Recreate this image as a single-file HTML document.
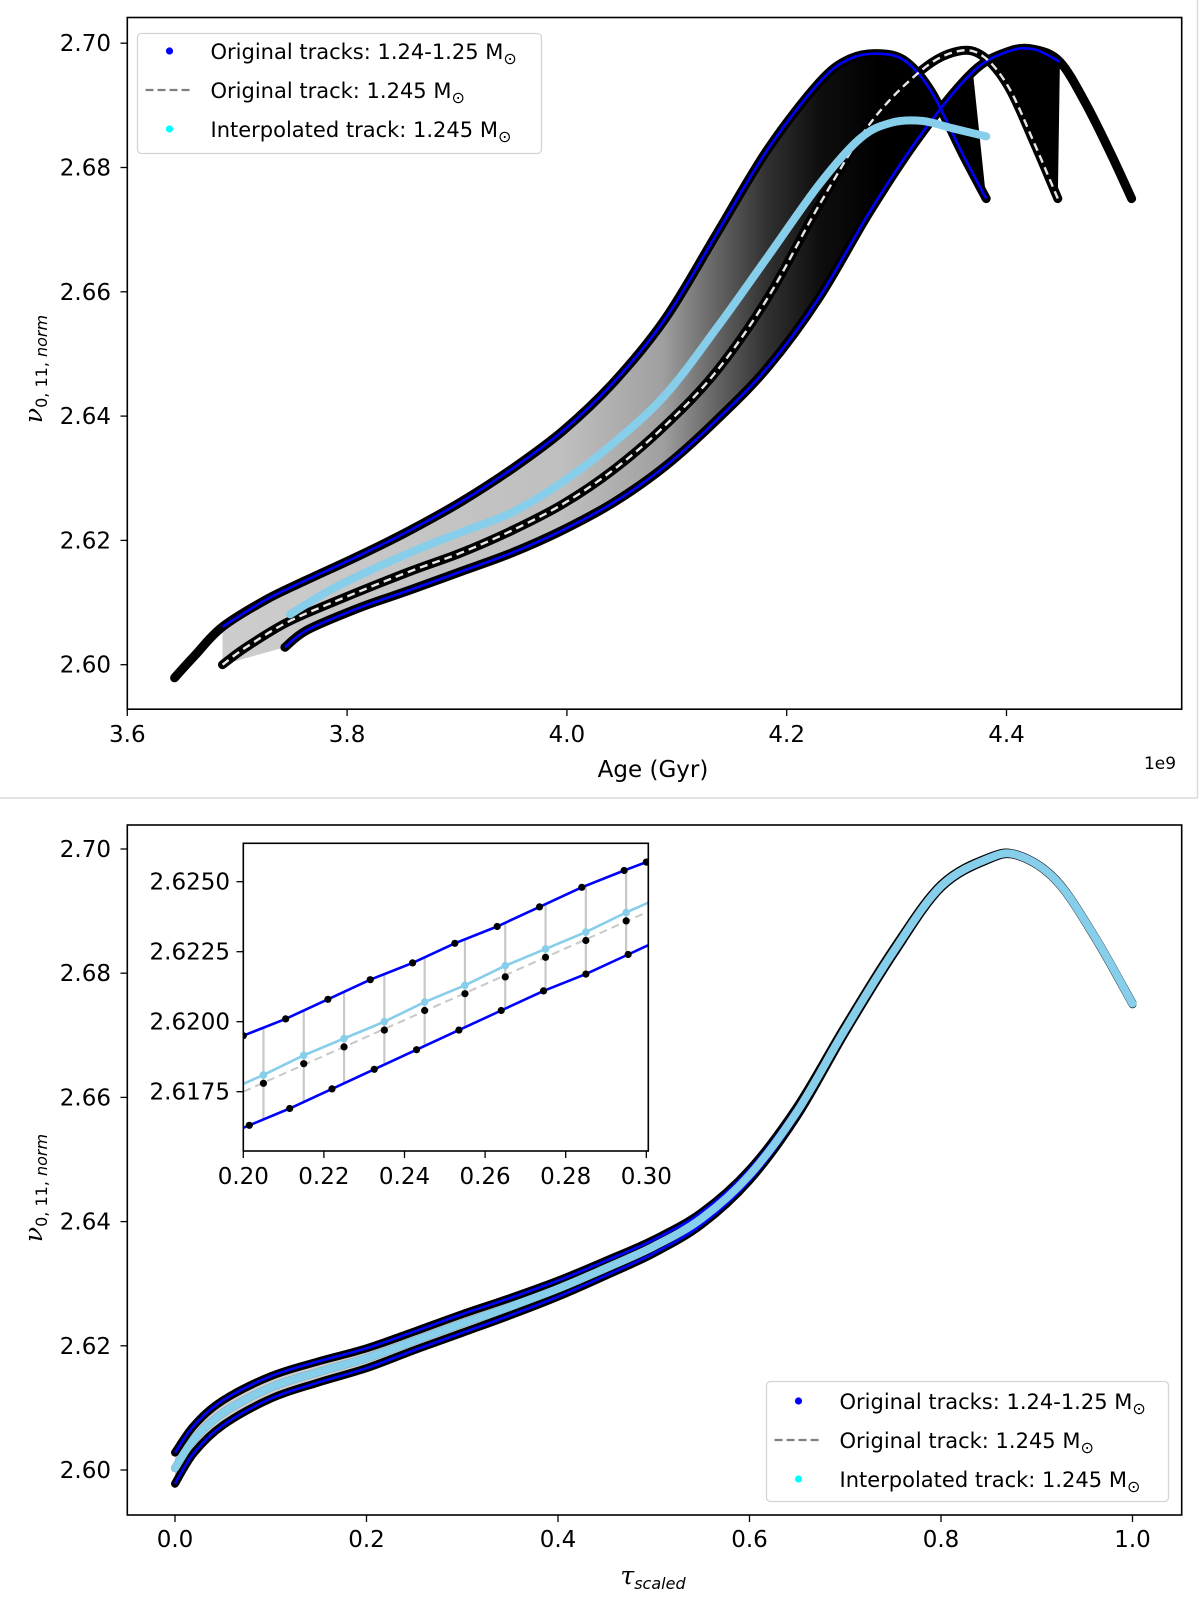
<!DOCTYPE html>
<html><head><meta charset="utf-8">
<style>
html,body{margin:0;padding:0;background:#fff;}
svg{display:block;font-family:"DejaVu Sans","Liberation Sans",sans-serif;}
</style></head>
<body>
<svg id="fig" width="1200" height="1605" viewBox="0 0 1200 1605" xmlns="http://www.w3.org/2000/svg">
<defs>
<linearGradient id="shade" gradientUnits="userSpaceOnUse" x1="220" y1="0" x2="880" y2="0">
<stop offset="0" stop-color="#cdcdcd"/>
<stop offset="0.52" stop-color="#bfbfbf"/>
<stop offset="0.67" stop-color="#a0a0a0"/>
<stop offset="0.75" stop-color="#666"/>
<stop offset="0.83" stop-color="#303030"/>
<stop offset="0.91" stop-color="#0e0e0e"/>
<stop offset="1" stop-color="#000"/>
</linearGradient>
<clipPath id="insetClip"><rect x="243.3" y="843.3" width="405" height="307.7"/></clipPath>
</defs>
<line x1="1197.5" y1="0" x2="1197.5" y2="798" stroke="#dcdcdc" stroke-width="1.5"/>
<line x1="0" y1="798" x2="1198" y2="798" stroke="#dcdcdc" stroke-width="1.5"/>
<g id="topChart"></g>
<g id="botChart"></g>
<g id="insChart"></g>
</svg>
<script>
// ---------- top chart data (age in yr/1e9, nu value) ----------
const trackAAge=[3.643,3.6615,3.6866,3.7267,3.764,3.8105,3.857,3.9036,3.950,3.9968,4.0434,4.090,4.1365,4.183,4.2297,4.2577,4.2856,4.3089,4.332,4.360,4.3815];
const trackANu=[2.5979,2.6015,2.6061,2.6105,2.6137,2.6175,2.6216,2.6262,2.6315,2.6377,2.6456,2.6558,2.6694,2.6830,2.6937,2.6975,2.6983,2.6970,2.6921,2.6822,2.6750];
const trackCAge=[3.7434,3.764,3.8105,3.857,3.9036,3.950,3.9968,4.0434,4.090,4.1365,4.183,4.2297,4.2763,4.323,4.3694,4.402,4.4253,4.4486,4.4718,4.495,4.5138];
const trackCNu=[2.6028,2.6056,2.6091,2.6120,2.6150,2.6180,2.6217,2.6262,2.6320,2.6394,2.6479,2.6591,2.6731,2.6855,2.6954,2.6987,2.6990,2.6970,2.6904,2.6822,2.6750];
const trackBAge=[3.6866,3.708,3.7453,3.7919,3.857,3.9036,3.950,3.9968,4.0434,4.090,4.1365,4.183,4.2297,4.2763,4.323,4.3554,4.3787,4.402,4.4253,4.4467];
const trackBNu=[2.6000,2.6028,2.6068,2.6104,2.6150,2.6180,2.6216,2.6259,2.6315,2.6386,2.6473,2.6591,2.6740,2.6872,2.6957,2.6987,2.6979,2.6929,2.6839,2.6750];
const interpAge=[3.748,3.7919,3.857,3.9036,3.950,3.9968,4.0434,4.090,4.1365,4.183,4.2297,4.267,4.295,4.323,4.351,4.3815];
const interpNu=[2.6081,2.6127,2.6180,2.6213,2.6245,2.6295,2.6358,2.6435,2.6542,2.6657,2.6773,2.6847,2.6872,2.6875,2.6863,2.6850];
const topXTicks=[3.6,3.8,4.0,4.2,4.4];
const topYTicks=[2.60,2.62,2.64,2.66,2.68,2.70];
// ---------- bottom chart data ----------
const tau=[0,0.02,0.05,0.1,0.15,0.2,0.25,0.3,0.35,0.4,0.45,0.5,0.55,0.6,0.65,0.7,0.75,0.8,0.85,0.88,0.92,0.96,1.0];
const bandCenter=[2.6003,2.6050,2.6092,2.6133,2.6158,2.6180,2.6208,2.6236,2.6263,2.6292,2.6325,2.6360,2.6405,2.6475,2.6578,2.6710,2.6834,2.6940,2.6985,2.6990,2.6950,2.6860,2.6751];
const bandUpper=[2.6028,2.6072,2.6112,2.6151,2.6175,2.6196,2.6223,2.6251,2.6277,2.6305,2.6337,2.6371,2.6415,2.6484,2.6586,2.6716,2.6839,2.6943,2.6987,2.6991,2.6951,2.6861,2.6752];
const bandLower=[2.5978,2.6028,2.6072,2.6115,2.6141,2.6164,2.6193,2.6221,2.6249,2.6279,2.6313,2.6349,2.6395,2.6466,2.6570,2.6704,2.6829,2.6937,2.6983,2.6989,2.6949,2.6859,2.6750];
const botXTicks=[0.0,0.2,0.4,0.6,0.8,1.0];
const botYTicks=[2.60,2.62,2.64,2.66,2.68,2.70];
// ---------- inset data ----------
const insUpTau=[0.200,0.2105,0.221,0.2315,0.242,0.2525,0.263,0.2735,0.284,0.2945,0.300];
const insUpNu=[2.6195,2.6201,2.6208,2.6215,2.6221,2.6228,2.6234,2.6241,2.6248,2.6254,2.6257];
const insLowTau=[0.2015,0.2115,0.222,0.2325,0.243,0.2535,0.264,0.2745,0.285,0.2955];
const insLowNu=[2.6163,2.6169,2.6176,2.6183,2.6190,2.6197,2.6204,2.6211,2.6217,2.6224];
const insMidTau=[0.205,0.215,0.225,0.235,0.245,0.255,0.265,0.275,0.285,0.295];
const insCyanNu=[2.6181,2.6188,2.6194,2.6200,2.6207,2.6213,2.6220,2.6226,2.6232,2.6239];
const insOrigNu=[2.6178,2.6185,2.6191,2.6197,2.6204,2.6210,2.6216,2.6223,2.6229,2.6236];
const insDashTau=[0.20,0.30];
const insDashNu=[2.6175,2.6239];
const insXTicks=[0.20,0.22,0.24,0.26,0.28,0.30];
const insYTicks=[2.6175,2.6200,2.6225,2.6250];

const SVGNS="http://www.w3.org/2000/svg";
function mk(parent,tag,attrs){const e=document.createElementNS(SVGNS,tag);for(const k in attrs)e.setAttribute(k,attrs[k]);parent.appendChild(e);return e;}
function smooth(p){
  if(p.length<3){return "M"+p.map(q=>q[0].toFixed(1)+","+q[1].toFixed(1)).join("L");}
  let d="M"+p[0][0].toFixed(1)+","+p[0][1].toFixed(1);
  for(let i=0;i<p.length-1;i++){
    const p0=p[Math.max(0,i-1)],p1=p[i],p2=p[i+1],p3=p[Math.min(p.length-1,i+2)];
    const c1=[p1[0]+(p2[0]-p0[0])/6,p1[1]+(p2[1]-p0[1])/6];
    const c2=[p2[0]-(p3[0]-p1[0])/6,p2[1]-(p3[1]-p1[1])/6];
    d+="C"+c1[0].toFixed(1)+","+c1[1].toFixed(1)+" "+c2[0].toFixed(1)+","+c2[1].toFixed(1)+" "+p2[0].toFixed(1)+","+p2[1].toFixed(1);
  }
  return d;
}
function toPts(xs,ys,fx,fy){return xs.map((x,i)=>[fx(x),fy(ys[i])]);}
function txt(p,x,y,s,size,name,extra){
  const e=document.createElementNS(SVGNS,'text');
  e.setAttribute('x',x);e.setAttribute('y',y);e.setAttribute('font-size',size);
  if(extra)for(const k in extra)e.setAttribute(k,extra[k]);
  e.innerHTML=s;p.appendChild(e);
  
  
  return e;
}
function legend(p,x,y,w,h,rows,name){
  const g=document.createElementNS(SVGNS,'g');p.appendChild(g);
  
  
  const r=mk(g,'rect',{x:x,y:y,width:w,height:h,rx:4,fill:'#fff','fill-opacity':0.85,stroke:'#d5d5d5','stroke-width':1.3});
  
  
  const labels=['Original tracks: 1.24-1.25 M','Original track: 1.245 M','Interpolated track: 1.245 M'];
  rows.forEach((ry,i)=>{
    const mx=x+32;
    if(i===1){const l=mk(g,'line',{x1:mx-24,y1:ry,x2:mx+20,y2:ry,stroke:'#808080','stroke-width':2.2,'stroke-dasharray':'8,4'});
      
      }
    else{const c=mk(g,'circle',{cx:mx,cy:ry,r:3.6,fill:i===0?'#0000ff':'#00ffff'});
      
      }
    txt(g,x+73,ry+8,labels[i]+'<tspan font-size="16" dy="5">⊙</tspan>',21,'legend-entry');
  });
}
function yTitle(p,tx,ty){
  txt(p,0,0,'<tspan font-style="italic" font-family="DejaVu Serif, serif">ν</tspan><tspan font-size="16" dy="5">0, 11, <tspan font-style="italic">norm</tspan></tspan>',25,'y-axis-title',{transform:'translate('+tx+','+ty+') rotate(-90)','text-anchor':'middle'});
}

// ===== TOP =====
const topG=document.getElementById('topChart');
const xT=a=>127.3+(a-3.6)/0.2*219.8;
const yT=v=>664.7-(v-2.6)/0.02*124.3;
const PA=toPts(trackAAge,trackANu,xT,yT), PC=toPts(trackCAge,trackCNu,xT,yT), PB=toPts(trackBAge,trackBNu,xT,yT), PI=toPts(interpAge,interpNu,xT,yT);
const aEnd=trackAAge[trackAAge.length-1];
const Cleft=PC.filter((p,i)=>trackCAge[i]<=aEnd+0.001);
const poly1=PA.slice(2).concat(Cleft.slice().reverse()).concat([PB[0]]);
let f1=mk(topG,'polygon',{points:poly1.map(p=>p.join(',')).join(' '),fill:'url(#shade)',stroke:'none'});


const bEnd=trackBAge[trackBAge.length-1];
const Cright=PC.filter((p,i)=>trackCAge[i]>=trackCAge[14]-0.001&&trackCAge[i]<=bEnd+0.003);
const Bright=PB.filter((p,i)=>trackBAge[i]>=4.37);
const poly2=Cright.concat([PB[PB.length-1]]).concat(Bright.slice().reverse());
let f2=mk(topG,'polygon',{points:poly2.map(p=>p.join(',')).join(' '),fill:'#000'});


[[PA,'track-low-mass-dots'],[PC,'track-high-mass-dots'],[PB,'track-mid-mass-dots']].forEach(([P,n])=>{
  const e=mk(topG,'path',{d:smooth(P),fill:'none',stroke:'#000','stroke-width':9,'stroke-linecap':'round','stroke-linejoin':'round'});
  
  
});
let la=mk(topG,'path',{d:smooth(PA.slice(2)),fill:'none',stroke:'#0000ff','stroke-width':2.6});


let lc=mk(topG,'path',{d:smooth(PC.slice(0,18)),fill:'none',stroke:'#0000ff','stroke-width':2.6});


let lb=mk(topG,'path',{d:smooth(PB),fill:'none',stroke:'#e6e6e6','stroke-width':2.4,'stroke-dasharray':'8,5'});


let li=mk(topG,'path',{d:smooth(PI),fill:'none',stroke:'#87ceeb','stroke-width':8,'stroke-linecap':'round'});


let fr=mk(topG,'rect',{x:127.3,y:17.5,width:1054.4,height:691.7,fill:'none',stroke:'#000','stroke-width':1.6});


topXTicks.forEach(t=>{
  const x=xT(t);
  const tk=mk(topG,'line',{x1:x,y1:709.2,x2:x,y2:716,stroke:'#000','stroke-width':1.3});
  
  
  const tx=mk(topG,'text',{x:x,y:742,'text-anchor':'middle','font-size':23,fill:'#000'});
  tx.textContent=t.toFixed(1);
  
  
});
topYTicks.forEach(t=>{
  const y=yT(t);
  const tk=mk(topG,'line',{x1:120.5,y1:y,x2:127.3,y2:y,stroke:'#000','stroke-width':1.3});
  
  
  const tx=mk(topG,'text',{x:111,y:y+8,'text-anchor':'end','font-size':23,fill:'#000'});
  tx.textContent=t.toFixed(2);
  
  
});
txt(topG,653,777,'Age (Gyr)',23,'x-axis-title',{'text-anchor':'middle'});
txt(topG,1160,769,'1e9',17,'x-axis-offset',{'text-anchor':'middle'});
yTitle(topG,42,369);
legend(topG,137.5,33.5,404,120,[51,90,129],'top-legend');

// ===== BOTTOM =====
const botG=document.getElementById('botChart');
const xB=t=>175+t*957.5;
const yB=v=>1470-(v-2.6)/0.02*124.2;
const PU=toPts(tau,bandUpper,xB,yB), PL=toPts(tau,bandLower,xB,yB), PM=toPts(tau,bandCenter,xB,yB);
let band=mk(botG,'polygon',{points:PU.concat(PL.slice().reverse()).map(p=>p.join(',')).join(' '),fill:'#cfcfcf'});


[[PU,'upper-track-dots'],[PL,'lower-track-dots'],[PM,'middle-track-dots']].forEach(([P,n])=>{
  const e=mk(botG,'path',{d:smooth(P),fill:'none',stroke:'#000','stroke-width':8,'stroke-linecap':'round'});
  
  
});
[[PU,'upper-track-line'],[PL,'lower-track-line']].forEach(([P,n])=>{
  const e=mk(botG,'path',{d:smooth(P),fill:'none',stroke:'#0000ff','stroke-width':2.6});
  
  
});
let ci=mk(botG,'path',{d:smooth(PM),fill:'none',stroke:'#87ceeb','stroke-width':8,'stroke-linecap':'round'});


let fr2=mk(botG,'rect',{x:127.3,y:825,width:1054.4,height:690,fill:'none',stroke:'#000','stroke-width':1.6});


botXTicks.forEach(t=>{
  const x=xB(t);
  const tk=mk(botG,'line',{x1:x,y1:1515,x2:x,y2:1522,stroke:'#000','stroke-width':1.3});
  
  
  const tx=mk(botG,'text',{x:x,y:1547,'text-anchor':'middle','font-size':23,fill:'#000'});
  tx.textContent=t.toFixed(1);
  
  
});
botYTicks.forEach(t=>{
  const y=yB(t);
  const tk=mk(botG,'line',{x1:120.5,y1:y,x2:127.3,y2:y,stroke:'#000','stroke-width':1.3});
  
  
  const tx=mk(botG,'text',{x:111,y:y+8,'text-anchor':'end','font-size':23,fill:'#000'});
  tx.textContent=t.toFixed(2);
  
  
});
txt(botG,653,1584,'<tspan font-style="italic" font-family="DejaVu Serif, serif">τ</tspan><tspan font-size="16" dy="5" font-style="italic">scaled</tspan>',25,'x-axis-title',{'text-anchor':'middle'});
yTitle(botG,42,1188);
legend(botG,766.5,1381.5,402,120,[1401,1440,1479],'bottom-legend');

// ===== INSET =====
const insG=document.getElementById('insChart');
const xI=t=>243.3+(t-0.2)/0.02*80.6;
const yI=v=>1091.7-(v-2.6175)/0.0025*70;
let bg=mk(insG,'rect',{x:243.3,y:843.3,width:405,height:307.7,fill:'#fff'});


const ig=mk(insG,'g',{'clip-path':'url(#insetClip)'});


function lerp(xs,ys,x){for(let i=0;i<xs.length-1;i++){if(x>=xs[i]&&x<=xs[i+1]){const f=(x-xs[i])/(xs[i+1]-xs[i]);return ys[i]+f*(ys[i+1]-ys[i]);}}return x<xs[0]?ys[0]:ys[ys.length-1];}
insMidTau.forEach((t,i)=>{
  const l=mk(ig,'line',{x1:xI(t),y1:yI(lerp(insUpTau,insUpNu,t)),x2:xI(t),y2:yI(lerp(insLowTau,insLowNu,t)),stroke:'#c8c8c8','stroke-width':2.2});
  
  
});
let dl=mk(ig,'path',{d:smooth(toPts(insDashTau,insDashNu,xI,yI)),stroke:'#c8c8c8','stroke-width':2,'stroke-dasharray':'8,5',fill:'none'});


insMidTau.forEach((t,i)=>{
  const c=mk(ig,'circle',{cx:xI(t),cy:yI(insOrigNu[i]),r:3.6,fill:'#000'});
  
  
});
[[insUpTau,insUpNu,'upper'],[insLowTau,insLowNu,'lower']].forEach(([xs,ys,n])=>{
  const P=toPts(xs,ys,xI,yI);
  const s0=(P[1][1]-P[0][1])/(P[1][0]-P[0][0]);
  const k=P.length-1;
  const s1=(P[k][1]-P[k-1][1])/(P[k][0]-P[k-1][0]);
  const ext=[[xI(0.195),P[0][1]-s0*(P[0][0]-xI(0.195))]].concat(P).concat([[xI(0.305),P[k][1]+s1*(xI(0.305)-P[k][0])]]);
  const l=mk(ig,'path',{d:'M'+ext.map(p=>p.join(',')).join('L'),stroke:'#0000ff','stroke-width':2.6,fill:'none'});
  
  
  P.forEach(p=>{const c=mk(ig,'circle',{cx:p[0],cy:p[1],r:3.6,fill:'#000'});
    
    });
});
const CP=toPts(insMidTau,insCyanNu,xI,yI);
const cs=(CP[CP.length-1][1]-CP[0][1])/(CP[CP.length-1][0]-CP[0][0]);
const cext=[[xI(0.195),CP[0][1]-cs*(CP[0][0]-xI(0.195))]].concat(CP).concat([[xI(0.305),CP[CP.length-1][1]+cs*(xI(0.305)-CP[CP.length-1][0])]]);
let cl=mk(ig,'path',{d:'M'+cext.map(p=>p.join(',')).join('L'),stroke:'#87ceeb','stroke-width':2.6,fill:'none'});


CP.forEach(p=>{const c=mk(ig,'circle',{cx:p[0],cy:p[1],r:3.8,fill:'#87ceeb'});
  
  });
let ifr=mk(insG,'rect',{x:243.3,y:843.3,width:405,height:307.7,fill:'none',stroke:'#000','stroke-width':1.6});


insXTicks.forEach(t=>{
  const x=xI(t);
  const tk=mk(insG,'line',{x1:x,y1:1151,x2:x,y2:1158,stroke:'#000','stroke-width':1.3});
  
  
  const tx=mk(insG,'text',{x:x,y:1184,'text-anchor':'middle','font-size':23,fill:'#000'});
  tx.textContent=t.toFixed(2);
  
  
});
insYTicks.forEach(t=>{
  const y=yI(t);
  const tk=mk(insG,'line',{x1:236.5,y1:y,x2:243.3,y2:y,stroke:'#000','stroke-width':1.3});
  
  
  const tx=mk(insG,'text',{x:230,y:y+8,'text-anchor':'end','font-size':23,fill:'#000'});
  tx.textContent=t.toFixed(4);
  
  
});
</script>
</body></html>
